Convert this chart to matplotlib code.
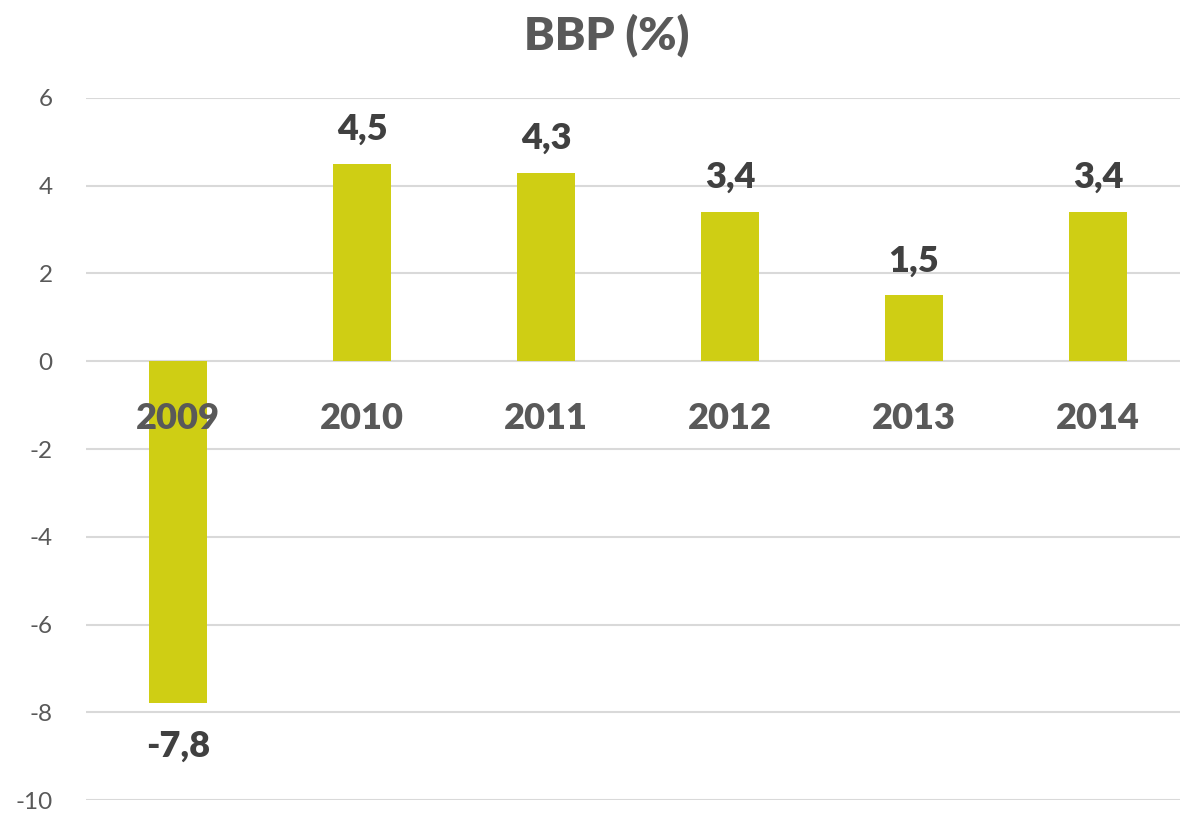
import matplotlib
matplotlib.use("Agg")
import matplotlib.pyplot as plt

years = ["2009", "2010", "2011", "2012", "2013", "2014"]
bbp = [-7.8, 4.5, 4.3, 3.4, 1.5, 3.4]
yticks = [-10, -8, -6, -4, -2, 0, 2, 4, 6]

plt.rcParams['font.family'] = ['Lato', 'DejaVu Sans']

fig = plt.figure(figsize=(11.8, 8.13), dpi=100)
ax = fig.add_axes([86 / 1180, 13 / 813, 1104 / 1180, 702 / 813])

x = range(len(years))
ax.bar(x, bbp, width=0.315, color="#CFCE14", zorder=2)

ax.set_xlim(-0.5, len(years) - 0.5)
ax.set_ylim(-10, 6)
ax.set_yticks(yticks)
ax.set_yticklabels([str(t) for t in yticks])
ax.grid(axis="y", color="#D9D9D9", linewidth=1.5, zorder=0)
ax.set_xticks([])
ax.tick_params(axis="y", length=0, pad=24, labelsize=17.5, labelcolor="#595959")
for s in ax.spines.values():
    s.set_visible(False)

for i, (yr, v) in enumerate(zip(years, bbp)):
    ax.annotate(yr, (i, 0), xytext=(0, -41), textcoords="offset points",
                ha="center", va="center", fontsize=26, fontweight="heavy",
                color="#595959", zorder=3)
    lbl = f"{v:.1f}".replace(".", ",")
    if v >= 0:
        ax.annotate(lbl, (i, v), xytext=(0, 13), textcoords="offset points",
                    ha="center", va="bottom", fontsize=26, fontweight="heavy",
                    color="#404040")
    else:
        ax.annotate(lbl, (i, v), xytext=(0, -19), textcoords="offset points",
                    ha="center", va="top", fontsize=26, fontweight="heavy",
                    color="#404040")

fig.text(607 / 1180, 1 - 35 / 813, "BBP (%)", ha="center", va="center",
         fontsize=33, fontweight="heavy", color="#595959")

fig.savefig("out.png", dpi=100)
